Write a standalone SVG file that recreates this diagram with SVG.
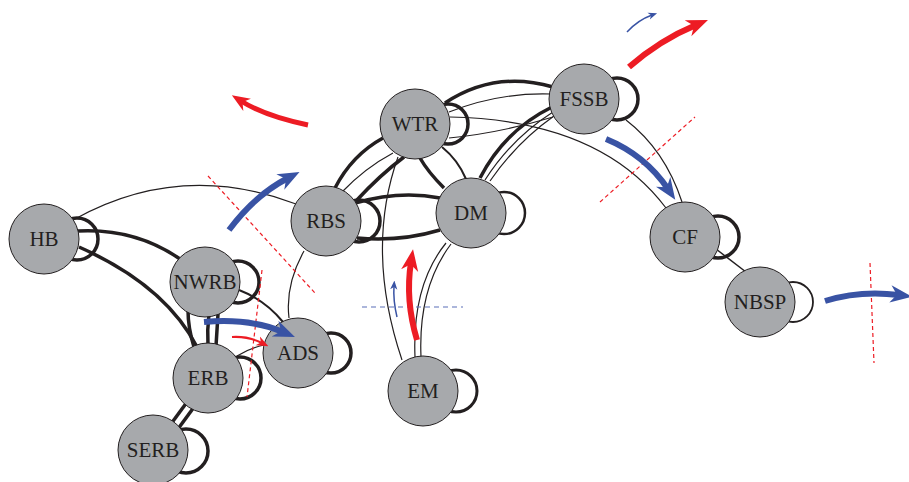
<svg xmlns="http://www.w3.org/2000/svg" width="909" height="482" viewBox="0 0 909 482">
<style>
.e{fill:none;stroke:#231F20;stroke-linecap:butt}
.k{stroke-width:3.5}
.m{stroke-width:2}
.t{stroke-width:1.2}
.loop{fill:none;stroke:#231F20}
.n{fill:#A7A9AC;stroke:#231F20;stroke-width:1}
.lbl{font-family:"Liberation Serif","Times New Roman",serif;font-size:21px;fill:#231F20;text-anchor:middle}
.fr{fill:none;stroke:#ED1C24}
.fb{fill:none;stroke:#3953A4}
.dr{fill:none;stroke:#ED1C24;stroke-width:1.2;stroke-dasharray:4 3}
.db{fill:none;stroke:#5B6FB8;stroke-width:1.2;stroke-dasharray:5 4}
</style>
<defs>
<marker id="hr" viewBox="0 0 10 10" refX="4" refY="5" markerWidth="3.6" markerHeight="3.6" orient="auto" markerUnits="strokeWidth"><path d="M0,1 L10,5 L0,9 L3,5 z" fill="#ED1C24"/></marker>
<marker id="hb" viewBox="0 0 10 10" refX="4" refY="5" markerWidth="3.6" markerHeight="3.6" orient="auto" markerUnits="strokeWidth"><path d="M0,1 L10,5 L0,9 L3,5 z" fill="#3953A4"/></marker>
<marker id="hrs" viewBox="0 0 10 10" refX="4" refY="5" markerWidth="6" markerHeight="6" orient="auto" markerUnits="strokeWidth"><path d="M0,1 L10,5 L0,9 L3,5 z" fill="#ED1C24"/></marker>
<marker id="hbs" viewBox="0 0 10 10" refX="4" refY="5" markerWidth="6" markerHeight="6" orient="auto" markerUnits="strokeWidth"><path d="M0,1 L10,5 L0,9 L3,5 z" fill="#3953A4"/></marker>
</defs>

<g id="loops">
<circle class="loop" cx="77" cy="239" r="21" stroke-width="3.5"/>
<circle class="loop" cx="238" cy="282" r="21" stroke-width="3.5"/>
<circle class="loop" cx="331" cy="353" r="20" stroke-width="3.5"/>
<circle class="loop" cx="240" cy="378" r="21" stroke-width="3.5"/>
<circle class="loop" cx="186" cy="451" r="22" stroke-width="3.5"/>
<circle class="loop" cx="359" cy="221" r="21" stroke-width="3.5"/>
<circle class="loop" cx="448" cy="124" r="20" stroke-width="3.5"/>
<circle class="loop" cx="504" cy="213" r="21" stroke-width="2.5"/>
<circle class="loop" cx="617" cy="99" r="21" stroke-width="3.5"/>
<circle class="loop" cx="718" cy="237" r="21" stroke-width="3.5"/>
<circle class="loop" cx="793" cy="302" r="20" stroke-width="1.8"/>
<circle class="loop" cx="456" cy="391" r="21" stroke-width="3"/>
</g>

<g id="connectors">
<path class="e t" d="M73,220 Q180,160 296,204"/>
<path class="e k" d="M78,231 Q135,228 180,259"/>
<path class="e k" d="M79,247 Q165,285 197,347"/>
<path class="e k" d="M188,310 Q188,328 194,347"/>
<path class="e k" d="M209,314 Q207,330 208,346"/>
<path class="e k" d="M218,314 Q217,330 216,346"/>
<path class="e m" d="M239,290 Q265,300 283,322"/>
<path class="e t" d="M237,356 Q250,348 264,345"/>
<path class="e t" d="M304,251 Q285,285 289,318"/>
<path class="e k" d="M190,398 L168,428"/>
<path class="e k" d="M197,403 L175,433"/>
<path class="e k" d="M335,188 Q352,155 383,138"/>
<path class="e t" d="M342,192 Q365,168 393,153"/>
<path class="e k" d="M356,201 Q380,175 404,157"/>
<path class="e k" d="M355,203 Q400,190 440,198"/>
<path class="e k" d="M357,238 Q400,242 440,230"/>
<path class="e k" d="M420,158 Q428,172 444,188"/>
<path class="e m" d="M442,147 Q458,160 466,179"/>
<path class="e t" d="M402,360 Q365,250 398,157"/>
<path class="e t" d="M415,357 Q412,285 446,243"/>
<path class="e t" d="M421,357 Q418,288 451,244"/>
<path class="e k" d="M445,103 Q495,70 553,87"/>
<path class="e t" d="M449,112 Q500,92 552,94"/>
<path class="e t" d="M449,138 Q500,133 553,117"/>
<path class="e t" d="M450,117 Q600,120 666,208"/>
<path class="e k" d="M480,178 Q505,130 552,107"/>
<path class="e t" d="M485,180 Q512,138 553,112"/>
<path class="e t" d="M490,181 Q517,142 554,116"/>
<path class="e t" d="M626,120 Q665,150 682,202"/>
<path class="e" stroke-width="1.5" d="M716,249 L746,272"/>
</g>

<g id="HB"><circle class="n" cx="44" cy="239" r="35"/><text class="lbl" x="44" y="246">HB</text></g>
<g id="NWRB"><circle class="n" cx="205" cy="282" r="35"/><text class="lbl" x="205" y="289">NWRB</text></g>
<g id="ADS"><circle class="n" cx="298" cy="353" r="35"/><text class="lbl" x="298" y="360">ADS</text></g>
<g id="ERB"><circle class="n" cx="208" cy="378" r="35"/><text class="lbl" x="208" y="385">ERB</text></g>
<g id="SERB"><circle class="n" cx="153" cy="450" r="35"/><text class="lbl" x="153" y="457">SERB</text></g>
<g id="RBS"><circle class="n" cx="326" cy="221" r="35"/><text class="lbl" x="326" y="228">RBS</text></g>
<g id="WTR"><circle class="n" cx="415" cy="124" r="35"/><text class="lbl" x="415" y="131">WTR</text></g>
<g id="DM"><circle class="n" cx="471" cy="213" r="35"/><text class="lbl" x="471" y="220">DM</text></g>
<g id="FSSB"><circle class="n" cx="584" cy="99" r="35"/><text class="lbl" x="584" y="106">FSSB</text></g>
<g id="CF"><circle class="n" cx="685" cy="237" r="35"/><text class="lbl" x="685" y="244">CF</text></g>
<g id="NBSP"><circle class="n" cx="760" cy="302" r="35"/><text class="lbl" x="760" y="309">NBSP</text></g>
<g id="EM"><circle class="n" cx="423" cy="391" r="35"/><text class="lbl" x="423" y="398">EM</text></g>

<g id="cuts">
<path class="dr" d="M208,176 L315,293"/>
<path class="dr" d="M262,270 L247,397"/>
<path class="db" d="M362,307 L463,307"/>
<path class="dr" d="M600,202 L695,117"/>
<path class="dr" d="M870,263 L874,363"/>
</g>

<g id="flows">
<path class="fr" stroke-width="5" marker-end="url(#hr)" d="M308,125 Q265,116 241,101"/>
<path class="fb" stroke-width="6" marker-end="url(#hb)" d="M229,230 Q255,195 288,178"/>
<path class="fb" stroke-width="6" marker-end="url(#hb)" d="M204,322 Q250,318 283,332"/>
<path class="fr" stroke-width="2" marker-end="url(#hrs)" d="M232,337 Q248,336 262,343"/>
<path class="fr" stroke-width="6" marker-end="url(#hr)" d="M417,340 Q405,300 411,262"/>
<path class="fb" stroke-width="1.5" marker-end="url(#hbs)" d="M397,317 Q393,300 394,286"/>
<path class="fb" stroke-width="1.5" marker-end="url(#hbs)" d="M627,32 Q638,20 652,15"/>
<path class="fr" stroke-width="6" marker-end="url(#hr)" d="M629,67 Q660,40 696,25"/>
<path class="fb" stroke-width="6" marker-end="url(#hb)" d="M606,139 Q645,155 668,189"/>
<path class="fb" stroke-width="6" marker-end="url(#hb)" d="M825,301 Q860,290 899,295"/>
</g>
</svg>
